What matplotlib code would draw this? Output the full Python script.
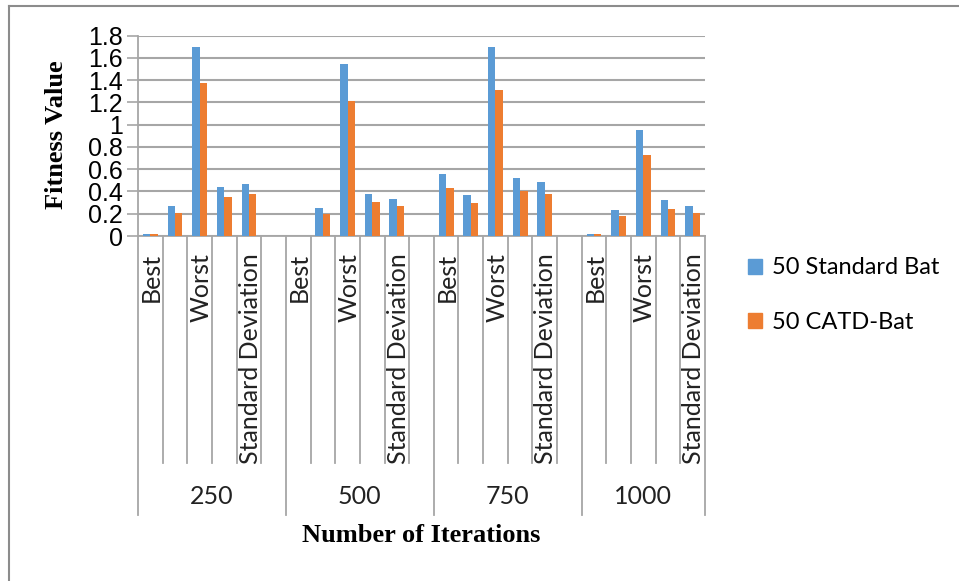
import numpy as np
import matplotlib
matplotlib.use("Agg")
import matplotlib.pyplot as plt
from matplotlib.lines import Line2D
from matplotlib.patches import Patch

iterations = ["250", "500", "750", "1000"]
measures = ["Best", "Mean", "Worst", "Median", "Standard Deviation", ""]
shown_labels = ["Best", "", "Worst", "", "Standard Deviation", ""]

# nan = no bar in the reference
standard_bat = [
    [0.015, 0.267, 1.70, 0.44, 0.465, np.nan],
    [np.nan, 0.255, 1.55, 0.38, 0.336, np.nan],
    [0.558, 0.372, 1.70, 0.522, 0.486, np.nan],
    [0.015, 0.234, 0.951, 0.327, 0.27],
]
catd_bat = [
    [0.015, 0.21, 1.377, 0.348, 0.375, np.nan],
    [np.nan, 0.198, 1.215, 0.303, 0.267, np.nan],
    [0.429, 0.294, 1.308, 0.405, 0.375, np.nan],
    [0.015, 0.177, 0.732, 0.246, 0.21],
]
series_names = ["50 Standard Bat", "50 CATD-Bat"]
colors = ["#5B9BD5", "#ED7D31"]
yticks = [0, 0.2, 0.4, 0.6, 0.8, 1, 1.2, 1.4, 1.6, 1.8]

sans = ["Lato", "DejaVu Sans"]
serif = ["Liberation Serif", "DejaVu Serif"]
grid_c = "#a6a6a6"

fig = plt.figure(figsize=(9.59, 5.81), dpi=100)
ax = fig.add_axes([138 / 959, 1 - 236 / 581, 567 / 959, 200.3 / 581])

blue_vals, orange_vals, labels, group_sizes = [], [], [], []
for g in range(len(iterations)):
    n = len(standard_bat[g])
    group_sizes.append(n)
    blue_vals += standard_bat[g]
    orange_vals += catd_bat[g]
    labels += shown_labels[:n]

x = np.arange(len(blue_vals))
w = 0.3
ax.bar(x - w / 2, blue_vals, w, color=colors[0], zorder=3)
ax.bar(x + w / 2, orange_vals, w, color=colors[1], zorder=3)

ax.set_xlim(-0.5, len(x) - 0.5)
ax.set_ylim(0, 1.8)
ax.set_yticks(yticks)
ax.set_yticklabels([f"{v:g}" for v in yticks],
                   family=["Liberation Sans Narrow", "Liberation Sans"],
                   fontsize=18)
ax.yaxis.grid(True, color=grid_c, linewidth=1.5, zorder=0)
ax.tick_params(axis="y", length=8, width=1.2, color=grid_c, pad=3)
ax.set_xticks([])
for s in ["top", "right"]:
    ax.spines[s].set_visible(False)
ax.spines["left"].set_color(grid_c)
ax.spines["bottom"].set_color(grid_c)
ax.spines["left"].set_linewidth(1.3)
ax.spines["bottom"].set_linewidth(1.3)

trans = ax.get_xaxis_transform()
sub_bottom = -(463 - 236) / 200.3
grp_bottom = -(515 - 236) / 200.3

# category boundaries and labels
edges = [-0.5]
start = 0
for g, n in enumerate(group_sizes):
    for i in range(n):
        xi = start + i
        if i > 0:
            ax.add_line(Line2D([xi - 0.5, xi - 0.5], [0, sub_bottom],
                               transform=trans, color=grid_c, lw=1.3, clip_on=False))
        if labels[xi]:
            ax.text(xi + 0.05, -0.085, labels[xi], transform=trans, rotation=90,
                    ha="center", va="top", fontsize=18, family=sans, color="#222222")
    ax.text(start + (n - 1) / 2, -(497 - 236) / 200.3, iterations[g], transform=trans,
            ha="center", va="center", fontsize=18, family=sans, color="#222222")
    start += n
    edges.append(start - 0.5)
for e in edges:
    ax.add_line(Line2D([e, e], [0, grp_bottom], transform=trans,
                       color=grid_c, lw=1.3, clip_on=False))

fig.text(57 / 959, 1 - 135 / 581, "Fitness Value", rotation=90, ha="center",
         va="center", fontsize=19, fontweight="bold", family=serif)
fig.text(421 / 959, 1 - 535 / 581, "Number of Iterations", ha="center",
         va="center", fontsize=19, fontweight="bold", family=serif)

handles = [Patch(color=c) for c in colors]
fig.legend(handles, series_names, loc="center left",
           bbox_to_anchor=(727 / 959, 1 - 295 / 581), frameon=False,
           prop={"family": sans, "size": 17}, handlelength=0.6, handleheight=0.6,
           handletextpad=0.4, labelspacing=1.4)

# outer frame
fig.add_artist(Line2D([8.5 / 959, 8.5 / 959], [0, 1 - 6 / 581], color="#8c8c8c", lw=1.5))
fig.add_artist(Line2D([8.5 / 959, 1], [1 - 6 / 581, 1 - 6 / 581], color="#8c8c8c", lw=1.5))

fig.savefig("out.png", dpi=100)
